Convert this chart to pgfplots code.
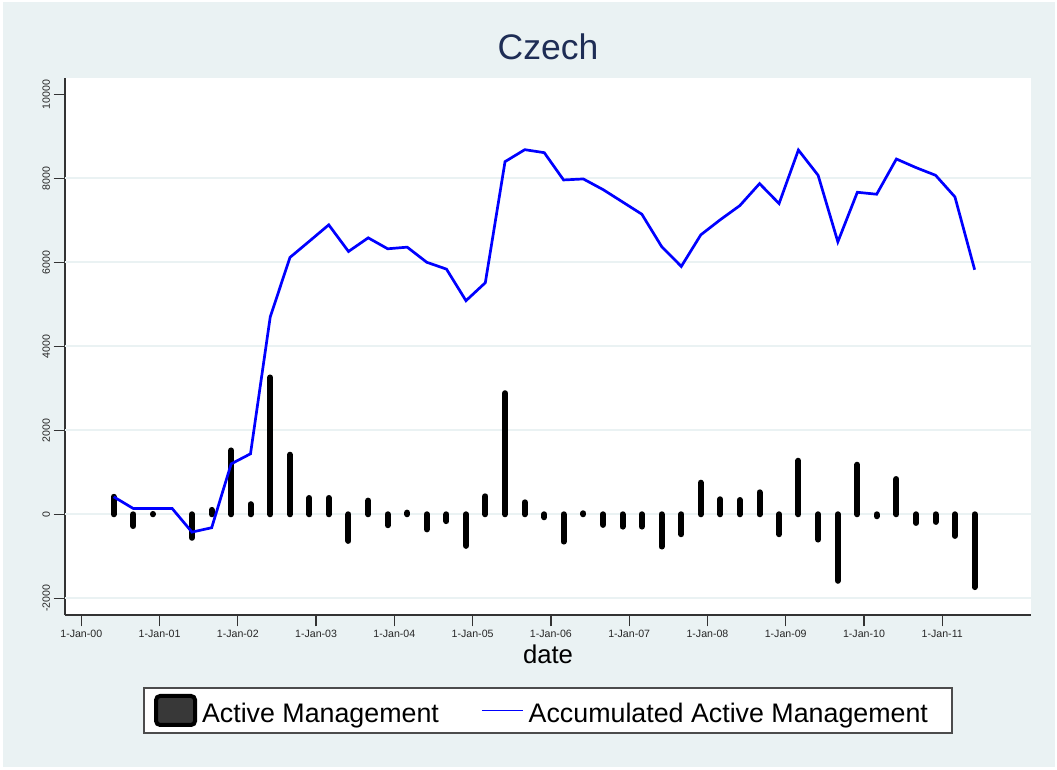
\documentclass[border=0pt]{standalone}
\usepackage{pgfplots}
\pgfplotsset{compat=1.18}
\usepackage{fontspec}
\setmainfont{Liberation Sans}
\definecolor{bgc}{RGB}{234,242,243}
\definecolor{titc}{RGB}{30,45,85}
\definecolor{gridc}{RGB}{234,242,243}

\pgfplotstableread{
x        v
2000.414 416
2000.666 -280
2000.915 8
2001.414 -560
2001.666 104
2001.915 1520
2002.162 240
2002.414 3257
2002.666 1418
2002.915 388
2003.162 388
2003.414 -634
2003.666 325
2003.915 -261
2004.164 39
2004.414 -360
2004.666 -163
2004.915 -752
2005.162 428
2005.414 2883
2005.666 285
2005.915 -71
2006.162 -650
2006.414 24
2006.666 -253
2006.915 -294
2007.162 -293
2007.414 -768
2007.666 -475
2007.915 752
2008.162 357
2008.414 340
2008.666 523
2008.915 -475
2009.162 1275
2009.414 -602
2009.666 -1584
2009.915 1180
2010.162 -47
2010.414 839
2010.666 -206
2010.915 -182
2011.162 -515
2011.414 -1734
}\activetab

\pgfplotstableread{
x        c
2000.414 416
2000.666 136
2000.915 136
2001.162 136
2001.414 -424
2001.666 -320
2001.915 1200
2002.162 1440
2002.414 4697
2002.666 6115
2002.915 6503
2003.162 6891
2003.414 6257
2003.666 6582
2003.915 6321
2004.164 6360
2004.414 6000
2004.666 5837
2004.915 5085
2005.162 5513
2005.414 8396
2005.666 8681
2005.915 8610
2006.162 7960
2006.414 7984
2006.666 7731
2006.915 7437
2007.162 7144
2007.414 6376
2007.666 5901
2007.915 6653
2008.162 7010
2008.414 7350
2008.666 7873
2008.915 7398
2009.162 8673
2009.414 8071
2009.666 6487
2009.915 7667
2010.162 7620
2010.414 8459
2010.666 8253
2010.915 8071
2011.162 7556
2011.414 5822
}\accumtab

\begin{document}
\begin{tikzpicture}[x=1bp,y=1bp]
\fill[white] (0,0) rectangle (1057,770);
\fill[bgc] (2.5,2.5) rectangle (1054.5,767.5);
\begin{axis}[
  at={(65bp,155bp)}, anchor=south west,
  scale only axis, width=966bp, height=537.3bp,
  xmin=1999.792, xmax=2012.134, ymin=-2398, ymax=10395,
  scaled x ticks=false, scaled y ticks=false,
  axis x line*=bottom, axis y line*=left,
  axis line style={black!80, line width=1.2bp, -},
  axis background/.style={fill=white},
  xtick={2000,2001,2002,2003,2004,2005,2006,2007,2008,2009,2010,2011},
  xticklabels={1-Jan-00,1-Jan-01,1-Jan-02,1-Jan-03,1-Jan-04,1-Jan-05,1-Jan-06,1-Jan-07,1-Jan-08,1-Jan-09,1-Jan-10,1-Jan-11},
  ytick={-2000,0,2000,4000,6000,8000,10000},
  yticklabels={-2000,0,2000,4000,6000,8000,10000},
  extra y ticks={-2000,0,2000,4000,6000,8000},
  extra y tick labels={},
  extra y tick style={grid=major, major tick length=0pt},
  major grid style={gridc, line width=1.7bp},
  tick align=outside,
  major tick length=11.5bp,
  tick style={black!80, line width=1.2bp},
  x tick label style={font=\fontsize{10.6bp}{12bp}\selectfont, text=black!85},
  y tick label style={font=\fontsize{10.6bp}{12bp}\selectfont, text=black!85, rotate=90, anchor=south},
  xlabel={date},
  xlabel style={at={(axis description cs:0.5,0)}, anchor=base, yshift=-49bp, font=\fontsize{25.7bp}{28bp}\selectfont},
  title={Czech},
  title style={at={(axis description cs:0.5,1)}, anchor=base, yshift=12.7bp, font=\fontsize{35.5bp}{38bp}\selectfont, text=titc},
  legend columns=2,
  legend style={at={(axis description cs:0.5,-0.1777)}, anchor=center,
    draw=black!70, line width=1.2bp, fill=white,
    font=\fontsize{26.8bp}{30bp}\selectfont,
    inner xsep=10bp, inner ysep=6bp,
    nodes={inner xsep=5bp, inner ysep=1bp},
    /tikz/every even column/.append style={column sep=37bp}},
]
\addplot[ycomb, black, line width=6bp, line cap=round,
  legend image code/.code={\draw[black, line width=4bp, fill=black!78, rounded corners=4bp] (2bp,-11bp) rectangle (41bp,18bp);}]
  table[x=x, y=v] {\activetab};
\addlegendentry{Active Management}
\addplot[blue, line width=2.7bp, line join=miter, mark=none,
  legend image code/.code={\draw[blue, line width=1.8bp] (0bp,3.5bp) -- (41bp,3.5bp);}]
  table[x=x, y=c] {\accumtab};
\addlegendentry{Accumulated Active Management\hspace*{9bp}}
\end{axis}
\pgfresetboundingbox
\useasboundingbox (0,0) rectangle (1057,770);
\end{tikzpicture}
\end{document}
